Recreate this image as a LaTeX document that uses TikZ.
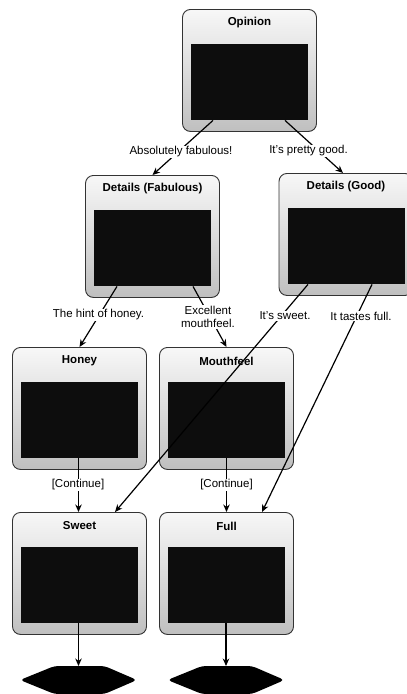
\documentclass[tikz,border=0pt]{standalone}
\usepackage{fontspec}
% no TeX input mapping, so ' stays a straight apostrophe
\setmainfont{Liberation Sans}[Ligatures=ResetAll]
\usetikzlibrary{arrows.meta}

% one state: rounded panel, bold title, dark preview area
\newcommand\statenode[4]{%
  \node[stbox, anchor=north] (#1) at (#2,#3) {};
  \node[sttitle] (#1-t) at ([yshift=-14pt]#1.north) {#4};
  \node[stimg, anchor=north] (#1-i) at ([yshift=-35pt]#1.north) {};
}
% final state: flat black hexagon hanging below a named top point
\newcommand\finalstate[3]{%
  \coordinate (#1) at (#2,#3);
  \fill[black, rounded corners=4pt]
    ([xshift=-58.5pt,yshift=-14pt]#1) -- ([xshift=-24pt]#1) -- ([xshift=26pt]#1)
    -- ([xshift=58.5pt,yshift=-14pt]#1) -- ([xshift=26pt,yshift=-28pt]#1)
    -- ([xshift=-24pt,yshift=-28pt]#1) -- cycle;
}

\begin{document}
\begin{tikzpicture}[x=1pt, y=-1pt,
  stbox/.style={draw=black!80, line width=0.9pt, rounded corners=8pt,
    top color=gray!6, bottom color=gray!50, minimum width=134pt,
    minimum height=122pt, inner sep=0pt},
  sttitle/.style={font=\bfseries\fontsize{11.5}{13}\selectfont, inner sep=1pt},
  stimg/.style={fill=black!95, minimum width=117pt, minimum height=76pt,
    inner sep=0pt},
  lbl/.style={fill=white, inner sep=1pt, align=center,
    font=\fontsize{11.5}{13.5}\selectfont},
  arr/.style={draw=black, line width=1.2pt,
    -{Stealth[length=7.5pt, width=6.5pt]}}
]
\useasboundingbox (0,0) rectangle (407,694);

% states
\statenode{op}{249.5}{9}{Opinion}
\statenode{fab}{152.5}{175}{Details (Fabulous)}
\statenode{good}{346}{173}{Details (Good)}
\statenode{honey}{79.5}{347}{Honey}
\statenode{mouth}{226.5}{347}{Mouthfeel}
\statenode{sweet}{79.5}{512}{Sweet}
\statenode{full}{226.5}{512}{Full}

% final states
\finalstate{fin1}{78.5}{666}
\finalstate{fin2}{226}{666}

% transitions
\draw[arr] ([xshift=-36.5pt]op-i.south) -- (fab.north);
\draw[arr] ([xshift=35.5pt]op-i.south) -- ([xshift=-3pt]good.north);
\draw[arr] ([xshift=-35.5pt]fab-i.south) -- (honey.north);
\draw[arr] ([xshift=40.5pt]fab-i.south) -- (mouth.north);
\draw[arr] ([xshift=-38pt]good-i.south) -- ([xshift=35.5pt]sweet.north);
\draw[arr] ([xshift=26pt]good-i.south) -- ([xshift=35.5pt]full.north);
\draw[arr] ([xshift=-1pt]honey-i.south) -- ([xshift=-1pt]sweet.north);
\draw[arr] (mouth-i.south) -- (full.north);
\draw[arr] ([xshift=-1pt]sweet-i.south) -- (fin1);
\draw[arr] ([xshift=-0.5pt]full-i.south) -- (fin2);

% transition labels
\node[lbl] (l1) at (181,152) {Absolutely fabulous!};
\node[lbl] (l2) at (308.5,151) {It's pretty good.};
\node[lbl] (l3) at (98.5,315) {The hint of honey.};
\node[lbl] (l4) at (208,317) {Excellent\\mouthfeel.};
\node[lbl] (l5) at (285,316) {It's sweet.};
\node[lbl] (l6) at (361,316) {It tastes full.};
\node[lbl] (l7) at (78,485) {[Continue]};
\node[lbl] (l8) at (226.5,485) {[Continue]};
\end{tikzpicture}
\end{document}
